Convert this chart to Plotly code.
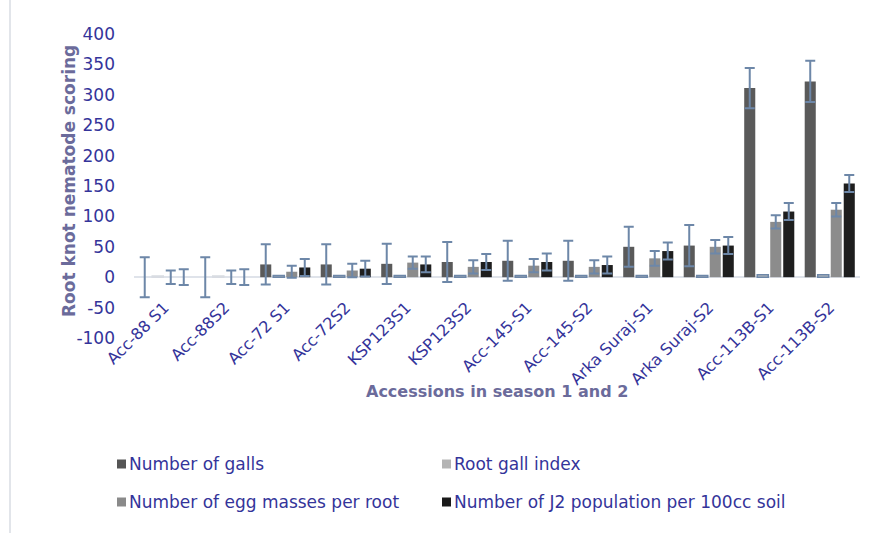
import plotly.graph_objects as go

# Accessions (season 1 / season 2)
accessions = ["Acc-88 S1", "Acc-88S2", "Acc-72 S1", "Acc-72S2", "KSP123S1", "KSP123S2",
              "Acc-145-S1", "Acc-145-S2", "Arka Suraj-S1", "Arka Suraj-S2",
              "Acc-113B-S1", "Acc-113B-S2"]

# Mean values per accession
galls = [0, 0, 21, 21, 22, 25, 27, 27, 50, 52, 311, 322]
gall_index = [2, 2, 3, 3, 3, 3, 3, 3, 3, 3, 4, 4]
egg_masses = [0, 0, 9, 11, 24, 17, 19, 17, 31, 50, 91, 111]
j2_population = [0, 0, 16, 14, 21, 25, 25, 20, 43, 52, 108, 154]

# Error bar half-widths
galls_err = [33, 33, 33, 33, 33, 33, 33, 33, 33, 34, 33, 34]
egg_err = [11, 11, 10, 11, 10, 11, 11, 11, 12, 11, 11, 11]
j2_err = [13, 13, 14, 13, 13, 13, 14, 14, 14, 14, 14, 14]

# Y axis ticks (plain hyphen for negatives)
y_tick_values = [-100, -50, 0, 50, 100, 150, 200, 250, 300, 350, 400]
y_tick_labels = ["-100", "-50", "0", "50", "100", "150", "200", "250", "300", "350", "400"]

series_names = ["Number of galls", "Root gall index",
                "Number of egg masses per root", "Number of J2 population per 100cc soil"]
series_colors = ["#5a5a5a", "#bdbdbd", "#8c8c8c", "#1e1e1e"]
legend_colors = ["#555555", "#b4b4b4", "#8a8a8a", "#1a1a1a"]

FONT = "DejaVu Sans"
NAVY = "#34349a"
TITLE_COLOR = "#6b6b9b"
ERR_COLOR = "#6d87a8"

W, H = 885, 533
ML, MR, MT, MB = 134, 25, 34, 195
PW, PH = W - ML - MR, H - MT - MB


def px_x(p):
    return (p - ML) / PW


def px_y(p):
    return (H - MB - p) / PH


def err(vals):
    return dict(type="data", array=vals, visible=True, color=ERR_COLOR, thickness=2, width=5)


fig = go.Figure()
fig.add_trace(go.Bar(x=accessions, y=galls, name=series_names[0],
                     marker=dict(color=series_colors[0], line=dict(width=0)),
                     error_y=err(galls_err)))
fig.add_trace(go.Bar(x=accessions, y=gall_index, name=series_names[1],
                     marker=dict(color=series_colors[1],
                                 line=dict(width=1.5,
                                           color=["#d8dce2"] * 2 + [ERR_COLOR] * 10))))
fig.add_trace(go.Bar(x=accessions, y=egg_masses, name=series_names[2],
                     marker=dict(color=series_colors[2], line=dict(width=0)),
                     error_y=err(egg_err)))
fig.add_trace(go.Bar(x=accessions, y=j2_population, name=series_names[3],
                     marker=dict(color=series_colors[3], line=dict(width=0)),
                     error_y=err(j2_err)))

shapes = [
    # left frame line
    dict(type="line", xref="paper", yref="paper", x0=px_x(10), x1=px_x(10),
         y0=px_y(H), y1=px_y(0), line=dict(color="#d9dde3", width=1.5)),
]
annotations = [
    dict(text="<b>Root knot nematode scoring</b>", xref="paper", yref="paper",
         x=px_x(57), y=px_y(181), textangle=-90, showarrow=False,
         font=dict(family=FONT, size=17, color=TITLE_COLOR)),
    dict(text="<b>Accessions in season 1 and 2</b>", xref="paper", yref="paper",
         x=px_x(497), y=px_y(403), showarrow=False,
         font=dict(family=FONT, size=16, color=TITLE_COLOR)),
]

# legend: two rows, two columns
legend_pos = [(117, 464), (442, 464), (117, 502), (442, 502)]
for name, col, (lx, ly) in zip(series_names, legend_colors, legend_pos):
    shapes.append(dict(type="rect", xref="paper", yref="paper",
                       x0=px_x(lx), x1=px_x(lx + 9), y0=px_y(ly + 4.5), y1=px_y(ly - 4.5),
                       fillcolor=col, line=dict(width=0)))
    annotations.append(dict(text=name, xref="paper", yref="paper",
                            x=px_x(lx + 10), y=px_y(ly), xanchor="left", yanchor="middle",
                            showarrow=False,
                            font=dict(family=FONT, size=17, color=NAVY)))

fig.update_layout(
    width=W, height=H,
    margin=dict(l=ML, r=MR, t=MT, b=MB, pad=0),
    paper_bgcolor="white", plot_bgcolor="white",
    barmode="group", bargap=0.14, bargroupgap=0.15,
    showlegend=False,
    shapes=shapes, annotations=annotations,
    xaxis=dict(anchor="free", position=0.2, showline=False, showgrid=False,
               tickangle=-45, ticks="", ticklabelstandoff=17,
               tickfont=dict(family=FONT, size=16, color=NAVY)),
    yaxis=dict(range=[-100, 400], tickvals=y_tick_values, ticktext=y_tick_labels,
               showgrid=False, showline=False,
               zeroline=True, zerolinecolor="#dfe3ea", zerolinewidth=2,
               ticks="", ticklabelstandoff=18,
               tickfont=dict(family=FONT, size=17, color=NAVY)),
)

fig.write_html("out.html")
